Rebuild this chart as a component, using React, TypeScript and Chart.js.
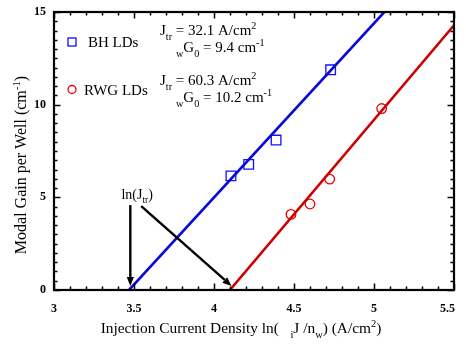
import { useEffect, useRef } from 'react';
import { Chart, registerables } from 'chart.js';

Chart.register(...registerables);

const SERIF = '"Liberation Serif", "Times New Roman", Times, serif';

// Axis ranges and labelled ticks
const X_MIN = 3;
const X_MAX = 5.5;
const Y_MIN = 0;
const Y_MAX = 15;
const X_TICKS = [3, 3.5, 4, 4.5, 5, 5.5];
const Y_TICKS = [0, 5, 10, 15];
const X_MINOR_STEP = 0.1;
const Y_MINOR_STEP = 0.5;

// Measured modal gain per well
const BH_X = [4.106, 4.217, 4.388, 4.729];
const BH_Y = [6.16, 6.78, 8.09, 11.88];
const RWG_X = [4.481, 4.6, 4.723, 5.048];
const RWG_Y = [4.08, 4.64, 5.98, 9.79];

// Fit parameters: G = wG0 * (ln J - ln Jtr)
const BH_JTR = 32.1;
const BH_G0 = 9.4;
const RWG_JTR = 60.3;
const RWG_G0 = 10.2;

// Arrows marking ln(Jtr) on the x axis: [x0, y0, x1, y1] in data units
const ARROWS = [
  [3.477, 4.58, 3.477, 0.22],
  [3.545, 4.53, Math.log(RWG_JTR) + 0.01, 0.22],
];

const BLUE_LINE = '#0a0ad8';
const RED_LINE = '#cc0000';
const BLUE_MARK = '#1010ff';
const RED_MARK = '#ee0000';

function fitLine(jtr: number, g0: number) {
  const x0 = Math.log(jtr);
  const xTop = x0 + Y_MAX / g0;
  const x1 = Math.min(xTop, X_MAX);
  return [
    { x: x0, y: 0 },
    { x: x1, y: g0 * (x1 - x0) },
  ];
}

type Seg = { t: string; s?: 'sub' | 'sup' };

function segFont(seg: Seg, size: number) {
  const sz = seg.s ? size * 0.68 : size;
  return `${sz}px ${SERIF}`;
}

function richWidth(ctx: CanvasRenderingContext2D, segs: Seg[], size: number) {
  let w = 0;
  for (const seg of segs) {
    ctx.font = segFont(seg, size);
    w += ctx.measureText(seg.t).width;
  }
  return w;
}

function drawRich(
  ctx: CanvasRenderingContext2D,
  segs: Seg[],
  x: number,
  y: number,
  size: number,
  align: 'left' | 'center'
) {
  const w = richWidth(ctx, segs, size);
  let cx = align === 'center' ? x - w / 2 : x;
  ctx.textAlign = 'left';
  ctx.textBaseline = 'alphabetic';
  for (const seg of segs) {
    ctx.font = segFont(seg, size);
    const dy = seg.s === 'sub' ? size * 0.3 : seg.s === 'sup' ? -size * 0.38 : 0;
    ctx.fillText(seg.t, cx, y + dy);
    cx += ctx.measureText(seg.t).width;
  }
}

const framePlugin = {
  id: 'frameAndNotes',
  afterDraw(chart: any) {
    const { ctx, chartArea } = chart;
    const xs = chart.scales.x;
    const ys = chart.scales.y;
    const { left, right, top, bottom } = chartArea;
    ctx.save();
    ctx.fillStyle = '#000';
    ctx.strokeStyle = '#000';

    // ticks on all four sides, pointing inward
    ctx.lineWidth = 1.5;
    const nx = Math.round((X_MAX - X_MIN) / X_MINOR_STEP);
    for (let i = 0; i <= nx; i++) {
      const v = X_MIN + i * X_MINOR_STEP;
      const major = i % 5 === 0;
      const len = major ? 6.5 : 3.5;
      const px = Math.round(xs.getPixelForValue(v)) + 0.5;
      ctx.beginPath();
      ctx.moveTo(px, bottom);
      ctx.lineTo(px, bottom - len);
      ctx.moveTo(px, top);
      ctx.lineTo(px, top + len);
      ctx.stroke();
    }
    const ny = Math.round((Y_MAX - Y_MIN) / Y_MINOR_STEP);
    for (let i = 0; i <= ny; i++) {
      const v = Y_MIN + i * Y_MINOR_STEP;
      const major = i % 10 === 0;
      const len = major ? 6.5 : 3.5;
      const py = Math.round(ys.getPixelForValue(v)) + 0.5;
      ctx.beginPath();
      ctx.moveTo(left, py);
      ctx.lineTo(left + len, py);
      ctx.moveTo(right, py);
      ctx.lineTo(right - len, py);
      ctx.stroke();
    }

    // frame
    ctx.lineWidth = 2.2;
    ctx.strokeRect(left, top, right - left, bottom - top);

    // tick labels
    ctx.font = `bold 12px ${SERIF}`;
    ctx.textBaseline = 'middle';
    X_TICKS.forEach((v, i) => {
      const last = i === X_TICKS.length - 1;
      ctx.textAlign = last ? 'right' : 'center';
      ctx.fillText(String(v), last ? right + 1 : xs.getPixelForValue(v), bottom + 19);
    });
    ctx.textAlign = 'right';
    for (const v of Y_TICKS) {
      ctx.fillText(String(v), left - 8, ys.getPixelForValue(v));
    }

    // axis titles
    drawRich(
      ctx,
      [
        { t: 'Injection Current Density ln(   ' },
        { t: 'i', s: 'sub' },
        { t: 'J /n' },
        { t: 'w', s: 'sub' },
        { t: ') (A/cm' },
        { t: '2', s: 'sup' },
        { t: ')' },
      ],
      241,
      333,
      15.4,
      'center'
    );
    ctx.save();
    ctx.translate(26, 165);
    ctx.rotate(-Math.PI / 2);
    drawRich(
      ctx,
      [{ t: 'Modal Gain per Well (cm' }, { t: '-1', s: 'sup' }, { t: ')' }],
      0,
      0,
      16,
      'center'
    );
    ctx.restore();

    // legend
    ctx.lineWidth = 1.3;
    ctx.strokeStyle = BLUE_MARK;
    ctx.strokeRect(left + 14, top + 26, 8, 8);
    ctx.strokeStyle = RED_MARK;
    ctx.beginPath();
    ctx.arc(left + 18, top + 77.5, 4, 0, Math.PI * 2);
    ctx.stroke();
    ctx.fillStyle = '#000';
    ctx.font = `15px ${SERIF}`;
    ctx.textAlign = 'left';
    ctx.textBaseline = 'alphabetic';
    ctx.fillText('BH LDs', left + 34, top + 35);
    ctx.fillText('RWG LDs', left + 30, top + 83);

    // fit parameters
    const ax = left + 106;
    drawRich(ctx, [{ t: 'J' }, { t: 'tr', s: 'sub' }, { t: ` = ${BH_JTR} A/cm` }, { t: '2', s: 'sup' }], ax, top + 23, 15, 'left');
    drawRich(ctx, [{ t: 'w', s: 'sub' }, { t: 'G' }, { t: '0', s: 'sub' }, { t: ` = ${BH_G0} cm` }, { t: '-1', s: 'sup' }], ax + 16, top + 40, 15, 'left');
    drawRich(ctx, [{ t: 'J' }, { t: 'tr', s: 'sub' }, { t: ` = ${RWG_JTR} A/cm` }, { t: '2', s: 'sup' }], ax, top + 73, 15, 'left');
    drawRich(ctx, [{ t: 'w', s: 'sub' }, { t: 'G' }, { t: '0', s: 'sub' }, { t: ` = ${RWG_G0} cm` }, { t: '-1', s: 'sup' }], ax + 16, top + 90, 15, 'left');

    // ln(Jtr) label and arrows
    drawRich(ctx, [{ t: 'ln(J' }, { t: 'tr', s: 'sub' }, { t: ')' }], xs.getPixelForValue(3.52), 199, 14, 'center');
    ctx.strokeStyle = '#000';
    ctx.fillStyle = '#000';
    ctx.lineWidth = 2.4;
    for (const [x0, y0, x1, y1] of ARROWS) {
      const p0x = xs.getPixelForValue(x0);
      const p0y = ys.getPixelForValue(y0);
      const p1x = xs.getPixelForValue(x1);
      const p1y = ys.getPixelForValue(y1);
      const ang = Math.atan2(p1y - p0y, p1x - p0x);
      const head = 9;
      const half = 3.6;
      const bx = p1x - head * Math.cos(ang);
      const by = p1y - head * Math.sin(ang);
      ctx.beginPath();
      ctx.moveTo(p0x, p0y);
      ctx.lineTo(bx, by);
      ctx.stroke();
      ctx.beginPath();
      ctx.moveTo(p1x, p1y);
      ctx.lineTo(bx + half * Math.sin(ang), by - half * Math.cos(ang));
      ctx.lineTo(bx - half * Math.sin(ang), by + half * Math.cos(ang));
      ctx.closePath();
      ctx.fill();
    }
    ctx.restore();
  },
};

export default function App() {
  const canvasRef = useRef<HTMLCanvasElement>(null);

  useEffect(() => {
    if (!canvasRef.current) return;
    const bhPoints = BH_X.map((x, i) => ({ x, y: BH_Y[i] }));
    const rwgPoints = RWG_X.map((x, i) => ({ x, y: RWG_Y[i] }));
    const chart = new Chart(canvasRef.current, {
      type: 'scatter',
      data: {
        datasets: [
          {
            label: 'BH fit',
            data: fitLine(BH_JTR, BH_G0),
            showLine: true,
            borderColor: BLUE_LINE,
            borderWidth: 2.6,
            pointRadius: 0,
          },
          {
            label: 'RWG fit',
            data: fitLine(RWG_JTR, RWG_G0),
            showLine: true,
            borderColor: RED_LINE,
            borderWidth: 2.6,
            pointRadius: 0,
          },
          {
            label: 'BH LDs',
            data: bhPoints,
            pointStyle: 'rect',
            pointRadius: 6.8,
            borderColor: BLUE_MARK,
            backgroundColor: 'rgba(0,0,0,0)',
            pointBorderWidth: 1.3,
          },
          {
            label: 'RWG LDs',
            data: rwgPoints,
            pointStyle: 'circle',
            pointRadius: 4.8,
            borderColor: RED_MARK,
            backgroundColor: 'rgba(0,0,0,0)',
            pointBorderWidth: 1.3,
          },
        ],
      },
      options: {
        animation: false,
        responsive: false,
        layout: { padding: { left: 54, right: 12, top: 12, bottom: 55 } },
        plugins: { legend: { display: false }, tooltip: { enabled: false } },
        scales: {
          x: { type: 'linear', min: X_MIN, max: X_MAX, display: false },
          y: { type: 'linear', min: Y_MIN, max: Y_MAX, display: false },
        },
      },
      plugins: [framePlugin],
    });
    return () => chart.destroy();
  }, []);

  return (
    <div style={{ position: 'absolute', left: 0, top: 0, width: 466, height: 345, background: '#fff' }}>
      <canvas ref={canvasRef} width={466} height={345} />
    </div>
  );
}
